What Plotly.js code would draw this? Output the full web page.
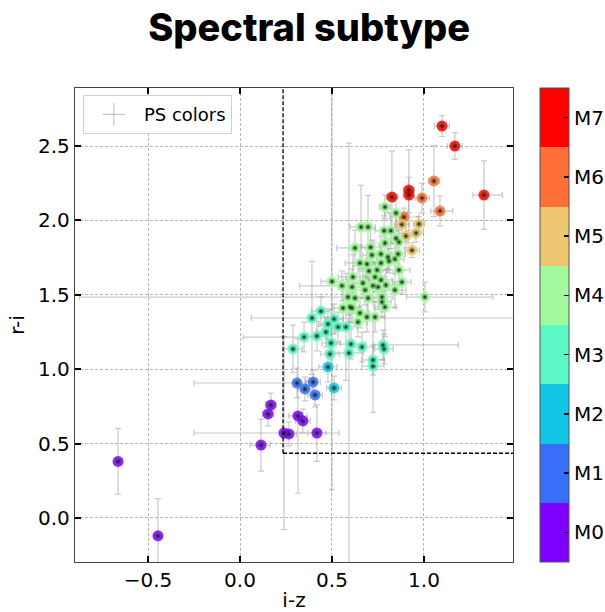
<!DOCTYPE html>
<html>
<head>
<meta charset="utf-8">
<script src="https://cdn.plot.ly/plotly-3.0.1.min.js"></script>
<style>html,body{margin:0;padding:0;background:#fff;}</style>
</head>
<body>
<div id="chart" style="width:605px;height:612px;"></div>
<script>
// i-z colour
const iz = [1.098,1.168,1.326,0.826,0.918,0.918,
  1.054,0.989,1.087,0.891,
  0.880,0.973,0.957,0.902,0.935,
  0.788,0.848,0.658,0.696,0.783,0.820,0.848,0.864,0.788,0.710,0.625,0.859,0.766,0.717,0.804,0.842,
  0.652,0.690,0.766,0.810,0.864,0.745,0.701,0.614,0.734,0.766,0.500,0.554,0.609,0.668,0.723,0.750,
  0.793,0.842,0.680,0.587,0.625,0.696,0.772,1.005,0.560,0.609,0.880,0.772,0.788,0.598,0.652,0.690,
  0.734,0.641,
  0.440,0.391,0.511,0.478,0.533,0.576,0.467,0.418,0.348,0.495,0.603,0.663,0.777,0.783,0.288,0.489,
  0.592,0.723,0.723,
  0.478,0.511,
  0.310,0.397,0.353,0.408,
  0.168,0.152,0.315,0.342,0.239,0.266,0.418,0.114,-0.663,-0.446];
// r-i colour
const ri = [2.634,2.500,2.170,2.157,2.204,2.170,
  2.265,2.150,2.063,2.023,
  1.973,1.976,1.915,1.895,1.800,
  2.090,2.050,1.956,1.956,1.930,1.930,1.880,1.855,1.848,1.820,1.815,1.774,1.774,1.767,1.754,1.740,
  1.714,1.707,1.714,1.727,1.667,1.667,1.660,1.620,1.620,1.600,1.590,1.560,1.552,1.579,1.560,1.552,
  1.566,1.532,1.532,1.485,1.478,1.478,1.485,1.485,1.411,1.411,1.586,1.452,1.418,1.418,1.378,1.351,
  1.351,1.317,
  1.390,1.344,1.337,1.304,1.284,1.284,1.250,1.223,1.216,1.176,1.169,1.149,1.163,1.136,1.136,1.102,
  1.109,1.062,1.020,
  1.015,0.874,
  0.907,0.914,0.867,0.827,
  0.759,0.699,0.686,0.652,0.571,0.565,0.571,0.490,0.380,-0.120];
// spectral subtype index (0 = M0 ... 7 = M7)
const subtype = [7,7,7,7,7,7,
  6,6,6,6,
  5,5,5,5,5,
  4,4,4,4,4,4,4,4,4,4,4,4,4,4,4,4,
  4,4,4,4,4,4,4,4,4,4,4,4,4,4,4,4,
  4,4,4,4,4,4,4,4,4,4,4,4,4,4,4,4,
  4,4,
  3,3,3,3,3,3,3,3,3,3,3,3,3,3,3,3,
  3,3,3,
  2,2,
  1,1,1,1,
  0,0,0,0,0,0,0,0,0,0];
// i-z errors (upper / lower)
const izErrPlus = [0.04,0.04,0.10,0.03,0.03,0.03,
  0.03,0.04,0.07,0.08,
  0.04,0.03,0.04,0.05,0.04,
  0.03,0.06,0.06,0.04,0.05,0.04,0.05,0.05,0.06,0.05,0.10,0.04,0.06,0.05,0.06,0.05,
  0.08,0.05,0.05,0.04,0.06,0.05,0.06,0.08,0.05,0.06,0.06,0.06,0.06,0.05,0.05,0.06,
  0.05,0.06,0.05,0.10,0.06,0.06,0.06,0.37,0.06,0.05,0.05,0.05,0.06,0.05,0.05,0.05,
  0.05,0.05,
  0.05,1.20,0.05,0.05,0.05,0.06,0.05,0.05,0.06,0.05,0.08,0.06,0.41,0.05,0.05,0.05,
  0.08,0.06,0.06,
  0.05,0.04,
  0.05,0.04,0.04,0.04,
  0.03,0.03,0.05,0.04,0.30,0.04,0.05,0.05,0.01,0.02];
const izErrMinus = [0.04,0.04,0.06,0.03,0.03,0.03,
  0.03,0.04,0.05,0.08,
  0.04,0.03,0.04,0.05,0.04,
  0.03,0.06,0.06,0.04,0.05,0.04,0.05,0.05,0.06,0.05,0.10,0.04,0.06,0.05,0.06,0.05,
  0.08,0.05,0.05,0.04,0.06,0.05,0.06,0.08,0.05,0.06,0.06,0.23,0.06,0.05,0.05,0.06,
  0.05,0.06,0.05,1.46,0.06,0.06,0.06,0.10,0.06,0.05,0.05,0.05,0.06,0.05,0.05,0.05,
  0.05,0.05,
  0.05,0.33,0.05,0.05,0.05,0.06,0.05,0.05,0.33,0.05,0.08,0.06,0.05,0.05,0.05,0.05,
  0.08,0.06,0.06,
  0.05,0.04,
  0.56,0.04,0.04,0.04,
  0.03,0.03,0.05,0.04,0.49,0.04,0.05,0.06,0.01,0.02];
// r-i errors (symmetric)
const riErr = [0.07,0.09,0.23,0.31,0.27,0.12,
  0.24,0.10,0.10,0.06,
  0.06,0.05,0.06,0.08,0.05,
  0.08,0.10,0.28,0.21,0.10,0.12,0.15,0.08,0.10,0.12,0.12,0.08,0.12,0.10,0.08,0.10,
  0.12,0.10,0.12,0.08,0.10,0.10,0.12,0.15,0.10,0.12,1.40,0.10,0.12,0.10,0.10,0.15,
  0.10,0.12,0.10,0.12,0.10,0.12,0.10,0.10,0.12,0.10,0.08,0.10,0.20,0.10,0.10,0.10,
  0.10,0.10,
  0.10,0.38,0.10,0.10,0.10,0.36,0.10,0.10,0.10,0.10,0.10,0.10,0.10,0.10,0.16,0.10,
  1.41,0.10,0.31,
  0.10,0.08,
  0.10,0.08,0.08,0.08,
  0.08,0.08,0.52,0.08,0.65,0.08,0.19,0.175,0.22,0.25];
const subtypeLabels = ['M0','M1','M2','M3','M4','M5','M6','M7'];
const subtypeColors = ['#8000ff','#376ff9','#12c7e6','#5bf9c7','#a4f99f','#edc76f','#ff6f39','#ff0000'];

const colorscale = [];
subtypeColors.forEach((c, i) => {
  colorscale.push([i / subtypeColors.length, c]);
  colorscale.push([(i + 1) / subtypeColors.length, c]);
});

const FONT = 'DejaVu Sans, Verdana, sans-serif';

const errTrace = {
  x: iz, y: ri, type: 'scatter', mode: 'markers', showlegend: false, hoverinfo: 'skip',
  marker: {size: 3, color: 'rgba(0,0,0,0)'},
  error_x: {type: 'data', symmetric: false, array: izErrPlus, arrayminus: izErrMinus,
            color: 'rgba(150,150,150,0.5)', thickness: 1.2, width: 3},
  error_y: {type: 'data', array: riErr, color: 'rgba(150,150,150,0.5)', thickness: 1.2, width: 3}
};
const colorTrace = {
  x: iz, y: ri, type: 'scatter', mode: 'markers', showlegend: false,
  marker: {size: 11, color: subtype, colorscale: colorscale, cmin: -0.5, cmax: 7.5,
    opacity: 0.85, line: {width: 0},
    showscale: true,
    colorbar: {
      tickmode: 'array', tickvals: [0,1,2,3,4,5,6,7], ticktext: subtypeLabels,
      thickness: 29, len: 1, lenmode: 'fraction', y: 0.5, yanchor: 'middle',
      x: 1.0616, xanchor: 'left', xpad: 0, ypad: 0,
      outlinewidth: 1, outlinecolor: '#555',
      ticks: 'inside', ticklen: 5, tickwidth: 1.5, tickcolor: '#000',
      tickfont: {family: FONT, size: 20, color: '#000'}
    }}
};
const haloTrace = {
  x: iz, y: ri, type: 'scatter', mode: 'markers', showlegend: false, hoverinfo: 'skip',
  marker: {size: 6, color: 'rgba(20,60,20,0.35)'}
};
const dotTrace = {
  x: iz, y: ri, type: 'scatter', mode: 'markers', showlegend: false, hoverinfo: 'skip',
  marker: {size: 3, color: 'rgba(20,40,20,0.8)'}
};
const legendTrace = {
  x: [null], y: [null], type: 'scatter', mode: 'markers', name: 'PS colors',
  marker: {symbol: 'cross-thin-open', size: 18, color: 'rgba(140,140,140,0.6)', line: {width: 1, color: 'rgba(140,140,140,0.6)'}}
};

const axisCommon = {
  showline: true, linecolor: '#444', linewidth: 1.2, mirror: 'allticks',
  ticks: 'inside', ticklen: 6, tickwidth: 2, tickcolor: '#000',
  showgrid: true, gridcolor: '#b5b5b5', griddash: '3px,2px', gridwidth: 1,
  zeroline: false,
  tickfont: {family: FONT, size: 20, color: '#000'}
};

const layout = {
  width: 605, height: 612,
  margin: {l: 75, r: 92, t: 88, b: 50, autoexpand: false},
  paper_bgcolor: '#fff', plot_bgcolor: '#fff',
  title: {text: 'Spectral subtype', font: {family: 'Inter', size: 38, weight: 800, color: '#000'},
          x: 0.511, xref: 'container', xanchor: 'center', y: 0.955, yref: 'container', yanchor: 'middle'},
  xaxis: Object.assign({}, axisCommon, {
    range: [-0.897, 1.484], tickmode: 'array', tickvals: [-0.5, 0, 0.5, 1.0],
    ticktext: ['\u22120.5', '0.0', '0.5', '1.0'],
    title: {text: 'i-z', font: {family: FONT, size: 20, color: '#000'}, standoff: 6}
  }),
  yaxis: Object.assign({}, axisCommon, {
    range: [-0.296, 2.89], tickmode: 'array', tickvals: [0, 0.5, 1.0, 1.5, 2.0, 2.5],
    ticktext: ['0.0', '0.5', '1.0', '1.5', '2.0', '2.5'],
    title: {text: 'r-i', font: {family: FONT, size: 20, color: '#000'}, standoff: 8}
  }),
  showlegend: true,
  legend: {x: 0.018, y: 0.985, xanchor: 'left', yanchor: 'top', bgcolor: '#fff',
    bordercolor: '#d0d0d0', borderwidth: 1, itemwidth: 50,
    font: {family: FONT, size: 18, color: '#000'}},
  shapes: [
    {type: 'line', xref: 'x', yref: 'y', x0: 0.234, x1: 0.234, y0: 0.435, y1: 2.89,
     line: {color: '#000', width: 1.3, dash: '4px,2px'}},
    {type: 'line', xref: 'x', yref: 'y', x0: 0.234, x1: 1.484, y0: 0.435, y1: 0.435,
     line: {color: '#000', width: 1.3, dash: '4px,2px'}}
  ]
};

Plotly.newPlot('chart', [errTrace, colorTrace, haloTrace, dotTrace, legendTrace], layout, {displayModeBar: false, staticPlot: true});
</script>
</body>
</html>
